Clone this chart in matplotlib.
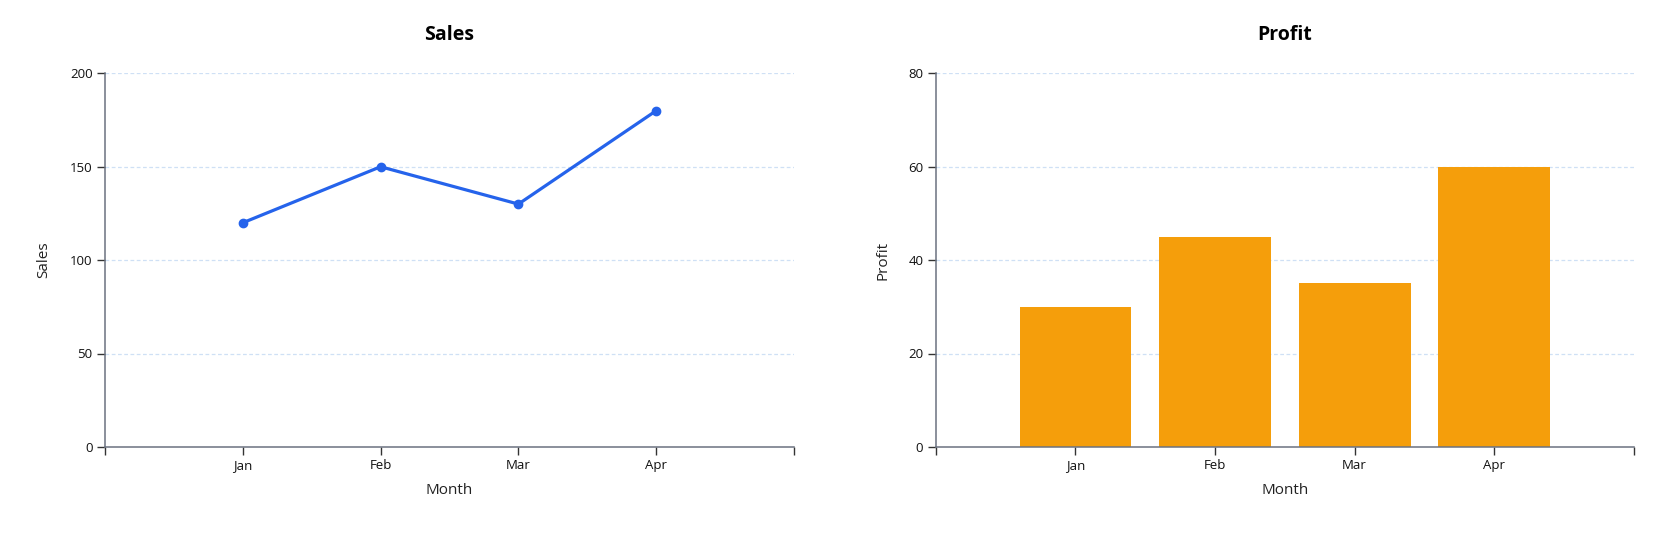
import numpy as np
import matplotlib
matplotlib.use("Agg")
import matplotlib.pyplot as plt

# =====================
# data
# =====================
months = ["Jan", "Feb", "Mar", "Apr"]
sales = [120, 150, 130, 180]
profit = [30, 45, 35, 60]
sales_ticks = [0, 50, 100, 150, 200]
profit_ticks = [0, 20, 40, 60, 80]

plt.rcParams["font.family"] = ["Open Sans", "DejaVu Sans"]

AXIS_COLOR = "#6b7280"
GRID_COLOR = "#cfe0f5"

fig = plt.figure(figsize=(16.8, 5.6), dpi=100)
ax1 = fig.add_axes([0.0625, 0.202, 0.4101, 0.667])
ax2 = fig.add_axes([0.557, 0.202, 0.4156, 0.667])


def style_axis(ax, ticks, ylabel, ylabel_x):
    x = np.arange(len(months))
    ax.set_xlim(-1, len(months))
    ax.set_ylim(ticks[0], ticks[-1])
    ax.set_xticks(x)
    ax.set_xticklabels(months)
    # outer ticks at the ends of the domain, like d3
    ax.set_xticks([-1, len(months)], minor=True)
    ax.set_yticks(ticks)
    for t in ticks[1:]:
        ax.axhline(t, color=GRID_COLOR, lw=0.9, ls=(0, (3, 2)), zorder=0)
    for side in ["top", "right"]:
        ax.spines[side].set_visible(False)
    for side in ["left", "bottom"]:
        ax.spines[side].set_color(AXIS_COLOR)
        ax.spines[side].set_linewidth(1.1)
    ax.tick_params(axis="both", which="both", length=6, width=1,
                   color="#333333", labelsize=9.5, labelcolor="#111111", pad=3)
    ax.set_xlabel("Month", fontsize=11, color="#222222", va="center")
    ax.xaxis.set_label_coords(0.5, -0.118)
    ax.set_ylabel(ylabel, fontsize=11, color="#222222", va="center")
    ax.yaxis.set_label_coords(ylabel_x, 0.5)


# =====================
# Sales line
# =====================
style_axis(ax1, sales_ticks, "Sales", -0.0885)
ax1.plot(np.arange(len(months)), sales, color="#2563eb", lw=2.3,
         marker="o", markersize=6, zorder=3, clip_on=False)
ax1.set_title("Sales", fontsize=14, fontweight="bold", pad=24)

# =====================
# Profit bars
# =====================
style_axis(ax2, profit_ticks, "Profit", -0.076)
ax2.bar(np.arange(len(months)), profit, width=0.8, color="#f59e0b", zorder=2)
ax2.set_title("Profit", fontsize=14, fontweight="bold", pad=24)

plt.savefig("out.png", dpi=100)
plt.close()
